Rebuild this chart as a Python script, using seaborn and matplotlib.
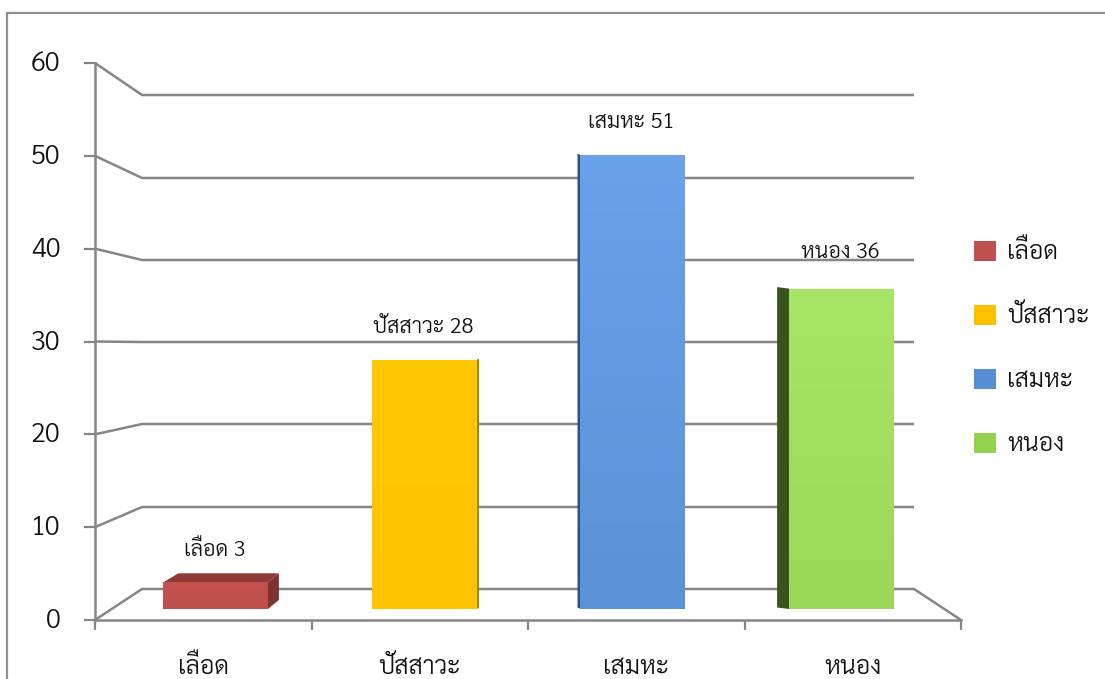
import matplotlib
matplotlib.use("Agg")
import matplotlib.pyplot as plt
from matplotlib.colors import LinearSegmentedColormap
from matplotlib.lines import Line2D
from matplotlib.patches import Patch, Polygon
from matplotlib.transforms import ScaledTranslation
import numpy as np
import pandas as pd
import seaborn as sns

# Chart content
categories = ["เลือด", "ปัสสาวะ", "เสมหะ", "หนอง"]
values = [3, 28, 51, 36]
y_ticks = [0, 10, 20, 30, 40, 50, 60]

# Styling per category
legend_colors = ["#C0504D", "#FFC000", "#558ED5", "#92D050"]
face_top = ["#C4524F", "#FFC803", "#6AA2EA", "#A6E566"]
face_bottom = ["#BE4F4B", "#FFC400", "#5A92D8", "#9AD858"]
side_colors = ["#7C3331", "#A88500", "#2E5280", "#3A521E"]
# (side: -1 left / +1 right, depth in pixels, rise in pixels)
side_geometry = [(1, 11, 9), (1, 2.5, 1), (-1, 3, 1.5), (-1, 12, 1.5)]
label_offsets_px = [26, 27, 27, 31]

# Figure layout, in pixels from the top left corner
W, H = 1105, 679
BAR_X0, BAR_DX, BAR_W = 215.6, 208.6, 104.6
BAR_Y0, BAR_SCALE = 609, 8.9
FRONT_L, FRONT_R, FRONT_T, FRONT_B = 95, 961, 63, 620
WALL_L, WALL_R = 142, 914
WALL_Y = [589, 507, 424, 342, 260, 178, 95]
GRID = "#868686"
TEXT = "#111111"

sns.set_theme(style="white")
plt.rcParams["font.family"] = ["Sarabun", "DejaVu Sans"]
plt.rcParams["font.weight"] = 300

fig = plt.figure(figsize=(W / 100, H / 100), dpi=100, facecolor="white")

# Page border
for xs, ys in [((7, 7), (13, H)), ((7, W), (13, 13))]:
    fig.add_artist(Line2D([x / W for x in xs], [1 - y / H for y in ys],
                          color="#8F8F8F", lw=1.6, transform=fig.transFigure))

# Bars live in a full-figure axes whose scales give the plane of the bar fronts
ax = fig.add_axes([0, 0, 1, 1], facecolor="none")
df = pd.DataFrame({"category": categories, "value": values})
sns.barplot(data=df, x="category", y="value", hue="category", palette=legend_colors,
            width=BAR_W / BAR_DX, dodge=False, legend=False, ax=ax, zorder=4, linewidth=0)
xlim = (-BAR_X0 / BAR_DX, (W - BAR_X0) / BAR_DX)
ylim = (-(H - BAR_Y0) / BAR_SCALE, BAR_Y0 / BAR_SCALE)
ax.set_xlim(xlim)
ax.set_ylim(ylim)
ax.axis("off")
ax.patch.set_visible(False)


def to_px(x, y):
    """Data coordinates of the bar axes to pixels from the top left."""
    dx, dy = ax.transData.transform((x, y))
    return dx * W / (fig.bbox.width), H - dy * H / (fig.bbox.height)


def from_px(px, py):
    """Pixels from the top left to data coordinates of the bar axes."""
    return ax.transData.inverted().transform((px * fig.bbox.width / W,
                                              (H - py) * fig.bbox.height / H))


# Back wall gridlines, with the receding segment out to the front axis
for tick, wy in zip(y_ticks, WALL_Y):
    fy = FRONT_B - (FRONT_B - FRONT_T) * tick / y_ticks[-1]
    pts = [from_px(FRONT_L, fy), from_px(WALL_L, wy), from_px(WALL_R, wy)]
    if tick == 0:
        pts.append(from_px(FRONT_R, FRONT_B))
    arr = np.array(pts)
    ax.plot(arr[:, 0], arr[:, 1], color=GRID, lw=1.8, zorder=1, solid_capstyle="butt")

# Gradient fronts and extruded side and top faces for each bar
for i, patch in enumerate(ax.patches[:len(values)]):
    x0, x1 = patch.get_x(), patch.get_x() + patch.get_width()
    top = patch.get_height()
    cmap = LinearSegmentedColormap.from_list("face", [face_bottom[i], face_top[i]])
    grad = np.linspace(0, 1, 64).reshape(-1, 1)
    im = ax.imshow(grad, extent=(x0, x1, 0, top), origin="lower", aspect="auto",
                   cmap=cmap, zorder=5)
    im.set_clip_path(patch)

    side, depth, rise = side_geometry[i]
    (lx, by), (rx, ty) = to_px(x0, 0), to_px(x1, top)
    edge = rx if side > 0 else lx
    ex = edge + side * depth
    quad = [(edge, ty), (ex, ty - rise), (ex, by - rise), (edge, by)]
    ax.add_patch(Polygon([from_px(*p) for p in quad], closed=True, facecolor=side_colors[i],
                         edgecolor="none", zorder=3))
    if i == 0:
        roof = [(lx, ty), (lx + 15, ty - rise), (ex, ty - rise), (rx, ty)]
        ax.add_patch(Polygon([from_px(*p) for p in roof], closed=True, facecolor="#8F3A38",
                             edgecolor="none", zorder=3))

ax.set_xlim(xlim)
ax.set_ylim(ylim)

# Value labels above the bars
for i, (name, val) in enumerate(zip(categories, values)):
    ax.annotate(f"{name} {val}", xy=(i, val), xytext=(-1, label_offsets_px[i] * 0.72),
                textcoords="offset points", ha="center", va="baseline",
                fontsize=15.6, color=TEXT, zorder=6)

# Front axis with the value ticks and the category ticks
front = fig.add_axes([FRONT_L / W, 1 - FRONT_B / H, (FRONT_R - FRONT_L) / W,
                      (FRONT_B - FRONT_T) / H], facecolor="none", zorder=-1)
front.set_xlim(0, len(categories))
front.set_ylim(y_ticks[0], y_ticks[-1])
front.set_yticks(y_ticks)
front.set_xticks(range(len(categories) + 1))
front.set_xticklabels([])
front.set_xticks([i + 0.5 for i in range(len(categories))], minor=True)
front.set_xticklabels(categories, minor=True)
front.tick_params(axis="y", length=8, width=1.6, color=GRID, labelsize=19.5,
                  labelcolor=TEXT, pad=17, left=True)
front.tick_params(axis="x", which="major", length=7.5, width=1.6, color=GRID, bottom=True)
front.tick_params(axis="x", which="minor", length=0, labelsize=18, labelcolor=TEXT, pad=25)
for name, spine in front.spines.items():
    spine.set_visible(name in ("left", "bottom"))
    spine.set_color(GRID)
    spine.set_linewidth(1.8)

# Nudge the value tick labels slightly above their ticks
nudge = ScaledTranslation(0, 1.5 / 72, fig.dpi_scale_trans)
for lab in front.get_yticklabels():
    lab.set_transform(lab.get_transform() + nudge)

# Legend on the right
handles = [Patch(facecolor=c, edgecolor="none", label=n) for c, n in zip(legend_colors, categories)]
fig.legend(handles=handles, loc="center left", bbox_to_anchor=(966 / W, 1 - 349 / H),
           frameon=False, fontsize=18, handlelength=0.89, handleheight=0.89,
           handletextpad=0.44, labelspacing=1.56, labelcolor=TEXT, borderpad=0, borderaxespad=0.3)

fig.savefig("out.png", dpi=100)
